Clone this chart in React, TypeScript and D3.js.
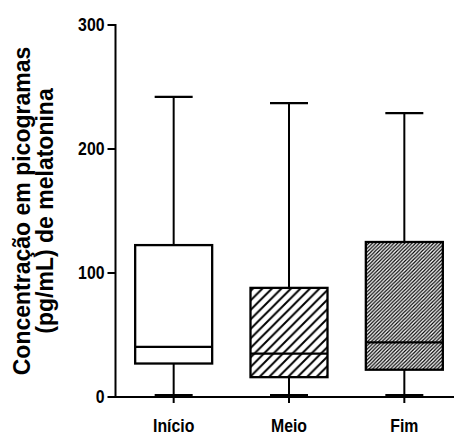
import React from "react";
import * as d3 from "d3";

const categories = ["Início", "Meio", "Fim"];
const whiskerMin = [1.5, 1.5, 1.5];
const q1Values = [27, 16, 22];
const medianValues = [40.5, 35, 44];
const q3Values = [122.5, 88, 125];
const whiskerMax = [242, 237, 229];
const fills = ["none", "hatchWide", "hatchDense"];
const yTicks = [0, 100, 200, 300];
const yTitle = ["Concentração em picogramas", "(pg/mL) de melatonina"];

const W = 455;
const H = 436;
const FONT = "'Liberation Sans', Arial, Helvetica, sans-serif";
const SQUEEZE = 0.88;

export default function App() {
  const x = d3.scalePoint<string>().domain(categories).range([116, 462]).padding(0.5);
  const y = d3.scaleLinear().domain([0, 300]).range([397, 25]);
  const axisX = 115.5;
  const boxW = 77;
  const capW = 38;

  return (
    <svg
      width={W}
      height={H}
      style={{ position: "absolute", left: 0, top: 0, background: "#fff" }}
    >
      <defs>
        <pattern id="hatchWide" patternUnits="userSpaceOnUse" width={9.5} height={9.5}>
          <path
            d="M-2,2 L2,-2 M0,9.5 L9.5,0 M7.5,11.5 L11.5,7.5"
            stroke="#000"
            strokeWidth={2}
          />
        </pattern>
        <pattern id="hatchDense" patternUnits="userSpaceOnUse" width={3.6} height={3.6}>
          <path
            d="M-1,1 L1,-1 M0,3.6 L3.6,0 M2.6,4.6 L4.6,2.6"
            stroke="#000"
            strokeWidth={1.2}
          />
        </pattern>
      </defs>

      {/* boxes */}
      {categories.map((c, i) => {
        const cx = x(c)!;
        return (
          <g key={c}>
            <line x1={cx} x2={cx} y1={y(whiskerMax[i])} y2={y(q3Values[i])} stroke="#000" strokeWidth={2} />
            <line x1={cx} x2={cx} y1={y(q1Values[i])} y2={y(whiskerMin[i])} stroke="#000" strokeWidth={2} />
            <line x1={cx - capW / 2} x2={cx + capW / 2} y1={y(whiskerMax[i])} y2={y(whiskerMax[i])} stroke="#000" strokeWidth={2.2} />
            <line x1={cx - capW / 2} x2={cx + capW / 2} y1={y(whiskerMin[i])} y2={y(whiskerMin[i])} stroke="#000" strokeWidth={2.2} />
            <rect
              x={cx - boxW / 2}
              y={y(q3Values[i])}
              width={boxW}
              height={y(q1Values[i]) - y(q3Values[i])}
              fill={fills[i] === "none" ? "#fff" : `url(#${fills[i]})`}
              stroke="#000"
              strokeWidth={2.3}
            />
            <line x1={cx - boxW / 2} x2={cx + boxW / 2} y1={y(medianValues[i])} y2={y(medianValues[i])} stroke="#000" strokeWidth={2.3} />
          </g>
        );
      })}

      {/* y axis */}
      <line x1={axisX} x2={axisX} y1={y(300) - 1} y2={y(0)} stroke="#000" strokeWidth={2} />
      {yTicks.map((t) => (
        <g key={t}>
          <line x1={axisX - 8} x2={axisX} y1={y(t)} y2={y(t)} stroke="#000" strokeWidth={2} />
          <text
            transform={`translate(${axisX - 11}, ${y(t)}) scale(${SQUEEZE}, 1)`}
            dy="0.36em"
            textAnchor="end"
            fontFamily={FONT}
            fontWeight="bold"
            fontSize={18}
          >
            {t}
          </text>
        </g>
      ))}

      {/* x axis */}
      <line x1={axisX - 1} x2={454} y1={y(0)} y2={y(0)} stroke="#000" strokeWidth={2} />
      {categories.map((c) => (
        <g key={c}>
          <line x1={x(c)!} x2={x(c)!} y1={y(0)} y2={y(0) + 6} stroke="#000" strokeWidth={2} />
          <text
            transform={`translate(${x(c)!}, 432) scale(${SQUEEZE}, 1)`}
            textAnchor="middle"
            fontFamily={FONT}
            fontWeight="bold"
            fontSize={18}
          >
            {c}
          </text>
        </g>
      ))}

      {/* y title */}
      <g transform={`translate(0, ${(y(0) + y(300)) / 2}) rotate(-90)`}>
        <text x={0} y={30} textAnchor="middle" fontFamily={FONT} fontWeight="bold" fontSize={23}>
          {yTitle[0]}
        </text>
        <text x={0} y={53} textAnchor="middle" fontFamily={FONT} fontWeight="bold" fontSize={23}>
          {yTitle[1]}
        </text>
      </g>
    </svg>
  );
}
